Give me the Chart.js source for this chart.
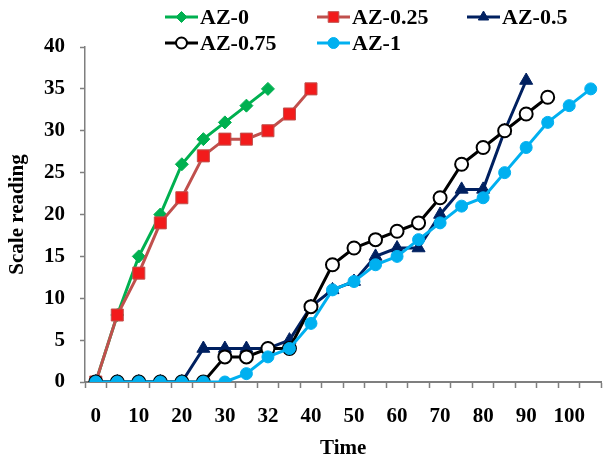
<!DOCTYPE html>
<html>
<head>
<meta charset="utf-8">
<script src="https://cdn.jsdelivr.net/npm/chart.js@4/dist/chart.umd.min.js"></script>
<style>
  html, body { margin: 0; padding: 0; background: #fff; }
  #wrap { width: 611px; height: 462px; position: relative; }
</style>
</head>
<body>
<div id="wrap"><canvas id="scaleChart"></canvas></div>
<script>
const timeLabels = ['0', '5', '10', '15', '20', '25', '30', '31', '32', '35', '40', '45', '50', '55', '60', '65', '70', '75', '80', '85', '90', '95', '100', '105'];
const yTicks = [0, 5, 10, 15, 20, 25, 30, 35, 40];

const az0 = [0, 8, 15, 20, 26, 29, 31, 33, 35];
const az025 = [0, 8, 13, 19, 22, 27, 29, 29, 30, 32, 35];
const az05 = [0, 0, 0, 0, 0, 4, 4, 4, 4, 5, 9, 11, 12, 15, 16, 16, 20, 23, 23, 30, 36];
const az075 = [0, 0, 0, 0, 0, 0, 3, 3, 4, 4, 9, 14, 16, 17, 18, 19, 22, 26, 28, 30, 32, 34];
const az1 = [0, 0, 0, 0, 0, 0, 0, 1, 3, 4, 7, 11, 12, 14, 15, 17, 19, 21, 22, 25, 28, 31, 33, 35];

const FONT = 'Liberation Serif';

// legend laid out as a 3-column grid, like the original
const gridLegend = {
    id: 'gridLegend',
    afterDraw(chart) {
        const { ctx } = chart;
        const cols = [165, 317, 467];
        const rows = [17, 43];
        ctx.save();
        chart.data.datasets.forEach((ds, i) => {
            const x = cols[i % 3];
            const y = rows[Math.floor(i / 3)];
            ctx.strokeStyle = ds.borderColor;
            ctx.lineWidth = 3;
            ctx.beginPath();
            ctx.moveTo(x, y);
            ctx.lineTo(x + 33, y);
            ctx.stroke();
            ctx.fillStyle = ds.pointBackgroundColor;
            ctx.strokeStyle = ds.pointBorderColor;
            ctx.lineWidth = ds.pointBorderWidth;
            Chart.helpers.drawPoint(ctx, {
                pointStyle: ds.pointStyle,
                radius: ds.legendRadius,
                borderWidth: ds.pointBorderWidth,
                rotation: 0,
            }, x + 16.5, y);
            ctx.fillStyle = '#000';
            ctx.font = 'bold 22px ' + FONT;
            ctx.textAlign = 'left';
            ctx.textBaseline = 'middle';
            ctx.fillText(ds.label, x + 35, y + 1);
        });
        ctx.restore();
    },
};

new Chart(document.getElementById('scaleChart'), {
    type: 'line',
    plugins: [gridLegend],
    data: {
        labels: timeLabels,
        datasets: [
            { label: 'AZ-0', data: az0, borderColor: '#00B050', pointBackgroundColor: '#00B050', pointBorderColor: '#00B050', pointBorderWidth: 1, pointStyle: 'rectRot', pointRadius: 6.5, legendRadius: 5.5, borderWidth: 3, order: 4 },
            { label: 'AZ-0.25', data: az025, borderColor: '#C0504D', pointBackgroundColor: '#F21B1B', pointBorderColor: '#C0504D', pointBorderWidth: 1, pointStyle: 'rect', pointRadius: 8.5, legendRadius: 7.5, borderWidth: 3, order: 3 },
            { label: 'AZ-0.5', data: az05, borderColor: '#002060', pointBackgroundColor: '#002060', pointBorderColor: '#002060', pointBorderWidth: 1, pointStyle: 'triangle', pointRadius: 7.5, legendRadius: 6, borderWidth: 3, order: 2 },
            { label: 'AZ-0.75', data: az075, borderColor: '#000000', pointBackgroundColor: '#ffffff', pointBorderColor: '#000000', pointBorderWidth: 2, pointStyle: 'circle', pointRadius: 6.5, legendRadius: 5.5, borderWidth: 3, order: 1 },
            { label: 'AZ-1', data: az1, borderColor: '#00B0F0', pointBackgroundColor: '#00B0F0', pointBorderColor: '#00B0F0', pointBorderWidth: 1, pointStyle: 'circle', pointRadius: 6, legendRadius: 5.5, borderWidth: 3, order: 0 },
        ],
    },
    options: {
        responsive: true,
        maintainAspectRatio: false,
        animation: false,
        layout: { padding: { top: 47, right: 0, left: 0, bottom: 0 } },
        elements: { line: { tension: 0 } },
        plugins: {
            legend: { display: false },
            tooltip: { enabled: false },
        },
        scales: {
            x: {
                type: 'category',
                offset: true,
                afterFit: (scale) => { scale.height = 80; },
                border: { display: true, color: '#7f7f7f', width: 2 },
                grid: { offset: true, drawOnChartArea: false, drawTicks: true, tickLength: 6, color: '#7f7f7f', tickWidth: 1.5 },
                ticks: {
                    autoSkip: false,
                    maxRotation: 0,
                    padding: 16,
                    color: '#000',
                    font: { family: FONT, size: 21, weight: 'bold' },
                    callback: (val, idx) => (idx % 2 === 0 && idx <= 22 ? timeLabels[idx] : ''),
                },
                title: { display: true, text: 'Time', color: '#000', padding: { top: 0, bottom: 0.5 }, font: { family: FONT, size: 21, weight: 'bold' } },
            },
            y: {
                min: yTicks[0],
                max: yTicks[yTicks.length - 1],
                afterFit: (scale) => { scale.width = 85; },
                afterBuildTicks: (scale) => { scale.ticks = yTicks.map((v) => ({ value: v })); },
                border: { display: true, color: '#7f7f7f', width: 1.5 },
                grid: { drawOnChartArea: false, drawTicks: true, tickLength: 5, color: '#7f7f7f', tickWidth: 1.5 },
                ticks: {
                    padding: 15,
                    color: '#000',
                    font: { family: FONT, size: 21, weight: 'bold' },
                },
                title: { display: true, text: 'Scale reading', color: '#000', padding: { top: 4.5, bottom: 0 }, font: { family: FONT, size: 21, weight: 'bold' } },
            },
        },
    },
});
</script>
</body>
</html>
